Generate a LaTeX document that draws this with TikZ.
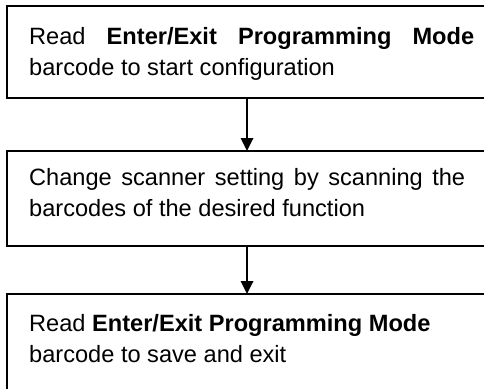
\documentclass[tikz,border=0pt]{standalone}
\usepackage{fontspec}
\setmainfont{Liberation Sans}
\usetikzlibrary{arrows.meta}
\begin{document}
\begin{tikzpicture}[x=1pt,y=1pt,
  stepbox/.style={draw, line width=1.8pt, minimum width=480pt, inner sep=0pt, outer sep=0pt, anchor=north west},
  steptext/.style={anchor=base west, inner sep=0pt, font=\fontsize{23.6}{31.5}\selectfont},
  flow/.style={line width=1.8pt, -{Triangle[width=12.5pt,length=13pt]}}]
\useasboundingbox (0,0) rectangle (484,-388);
\clip (0,0) rectangle (484,-388);
\node[stepbox, minimum height=92pt] (b1) at (7,-6) {};
\node[stepbox, minimum height=95pt] (b2) at (7,-151) {};
\node[stepbox, minimum height=96pt] (b3) at (7,-294) {};
\node[steptext] (t1) at (29,-44) {\vtop{\hbox{\makebox[445pt][s]{Read \textbf{Enter/Exit Programming Mode}}}\hbox{barcode to start configuration}}};
\node[steptext] (t2) at (29,-185) {\vtop{\hbox{\makebox[436pt][s]{Change scanner setting by scanning the}}\hbox{barcodes of the desired function}}};
\node[steptext] (t3) at (29,-331) {\vtop{\hbox{Read \textbf{Enter/Exit Programming Mode}}\hbox{barcode to save and exit}}};
\draw[flow] (b1.south) -- (b2.north);
\draw[flow] (b2.south) -- (b3.north);
\end{tikzpicture}
\end{document}
